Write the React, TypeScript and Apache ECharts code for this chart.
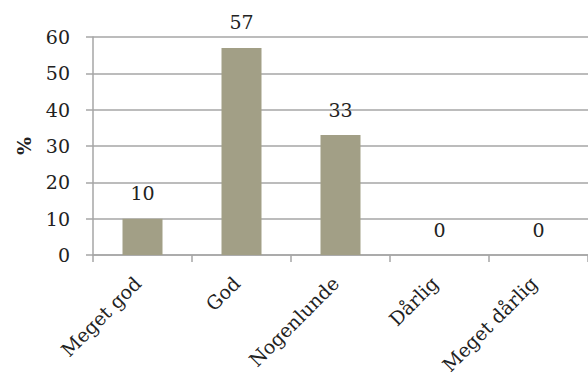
import React, { useEffect, useRef } from "react";
import * as echarts from "echarts";

const categories = ["Meget god", "God", "Nogenlunde", "Dårlig", "Meget dårlig"];
const values = [10, 57, 33, 0, 0];
const yTicks = { min: 0, max: 60, interval: 10 };

const FONT = "'DejaVu Serif', serif";
const LINE = "#a6a6a6";

export default function App() {
  const ref = useRef<HTMLDivElement>(null);
  useEffect(() => {
    if (!ref.current) return;
    const chart = echarts.init(ref.current, undefined, { renderer: "svg" });
    chart.setOption({
      animation: false,
      grid: { left: 93, top: 37, width: 503, height: 218, containLabel: false },
      xAxis: {
        type: "category",
        data: categories,
        boundaryGap: true,
        axisLine: { show: true, lineStyle: { color: LINE, width: 1.5 } },
        axisTick: { show: true, length: 7, alignWithLabel: false, lineStyle: { color: LINE, width: 1.5 } },
        axisLabel: {
          interval: 0,
          rotate: 45,
          margin: 20,
          padding: [0, 7, 0, 0],
          fontFamily: FONT,
          fontSize: 19,
          color: "#222",
        },
      },
      yAxis: {
        type: "value",
        min: yTicks.min,
        max: yTicks.max,
        interval: yTicks.interval,
        name: "%",
        nameLocation: "middle",
        nameGap: 60,
        nameRotate: 90,
        nameTextStyle: { fontFamily: FONT, fontSize: 19, fontWeight: "bold", color: "#222" },
        axisLine: { show: true, lineStyle: { color: LINE, width: 1.5 } },
        axisTick: { show: true, length: 7, lineStyle: { color: LINE, width: 1.5 } },
        splitLine: { show: true, lineStyle: { color: LINE, width: 1.5 } },
        axisLabel: { margin: 23, fontFamily: FONT, fontSize: 19, color: "#222" },
      },
      series: [
        {
          type: "bar",
          data: values,
          barWidth: 40,
          itemStyle: { color: "#a29f86" },
          label: {
            show: true,
            position: "top",
            distance: 16,
            fontFamily: FONT,
            fontSize: 19,
            color: "#222",
          },
        },
      ],
    });
    return () => chart.dispose();
  }, []);
  return <div ref={ref} style={{ width: 588, height: 380, position: "absolute", left: 0, top: 0 }} />;
}
